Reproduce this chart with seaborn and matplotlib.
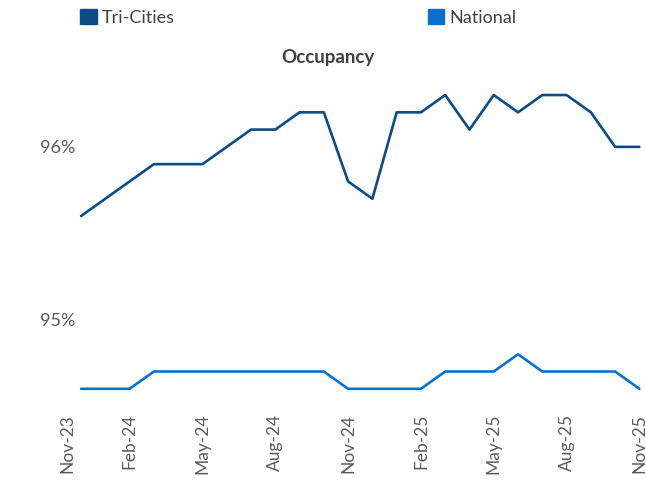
import numpy as np
import pandas as pd
import matplotlib
matplotlib.use("Agg")
import matplotlib.pyplot as plt
import matplotlib.patches as mpatches
import seaborn as sns

# monthly data, Dec-23 .. Nov-25
months = pd.date_range("2023-12-01", "2025-11-01", freq="MS")
tri_cities = [95.6, 95.7, 95.8, 95.9, 95.9, 95.9, 96.0, 96.1, 96.1, 96.2, 96.2, 95.8,
              95.7, 96.2, 96.2, 96.3, 96.1, 96.3, 96.2, 96.3, 96.3, 96.2, 96.0, 96.0]
national = [94.6, 94.6, 94.6, 94.7, 94.7, 94.7, 94.7, 94.7, 94.7, 94.7, 94.7, 94.6,
            94.6, 94.6, 94.6, 94.7, 94.7, 94.7, 94.8, 94.7, 94.7, 94.7, 94.7, 94.6]
tick_labels = ["Nov-23", "Feb-24", "May-24", "Aug-24", "Nov-24",
               "Feb-25", "May-25", "Aug-25", "Nov-25"]
colors = {"Tri-Cities": "#0B4C86", "National": "#0A70CE"}

# month index: Nov-23 = 0
idx = np.arange(1, len(months) + 1)
df = pd.DataFrame({
    "m": np.concatenate([idx, idx]),
    "occ": tri_cities + national,
    "series": ["Tri-Cities"] * len(idx) + ["National"] * len(idx),
})

sns.set_style("white")
plt.rcParams["font.family"] = ["Lato", "DejaVu Sans"]

fig = plt.figure(figsize=(6.46, 4.8), dpi=100)
ax = fig.add_axes([0.1037, 0.154, 0.888, 0.72])

sns.lineplot(data=df, x="m", y="occ", hue="series", palette=colors,
             linewidth=1.9, legend=False, ax=ax)

left = 0.42
ax.set_xlim(left, 24.05)
ax.set_ylim(94.5, 96.5)
ax.set_xticks([left] + list(range(3, 25, 3)))
ax.set_xticklabels(tick_labels, rotation=90)
ax.set_xticks(np.arange(1, 25), minor=True)
ax.set_yticks([95, 96])
ax.set_yticklabels(["95%", "96%"])
ax.set_xlabel("")
ax.set_ylabel("")
for s in ax.spines.values():
    s.set_visible(False)
ax.tick_params(axis="x", which="both", length=1.5, width=1, color="#d6d6d6",
               labelsize=12.5, labelcolor="#595959", pad=4)
ax.tick_params(axis="y", length=0, labelsize=13, labelcolor="#595959", pad=-6)

fig.text(0.508, 0.881, "Occupancy", ha="center", va="center",
         fontsize=13.5, fontweight="bold", color="#404040")

handles = [mpatches.Patch(color=colors[k], label=k) for k in colors]
fig.legend(handles=handles, loc="center", bbox_to_anchor=(0.462, 0.963), ncol=2,
           frameon=False, fontsize=13, handlelength=0.9, handleheight=0.9,
           handletextpad=0.3, columnspacing=14.0, labelcolor="#404040")

fig.savefig("out.png", dpi=100)
